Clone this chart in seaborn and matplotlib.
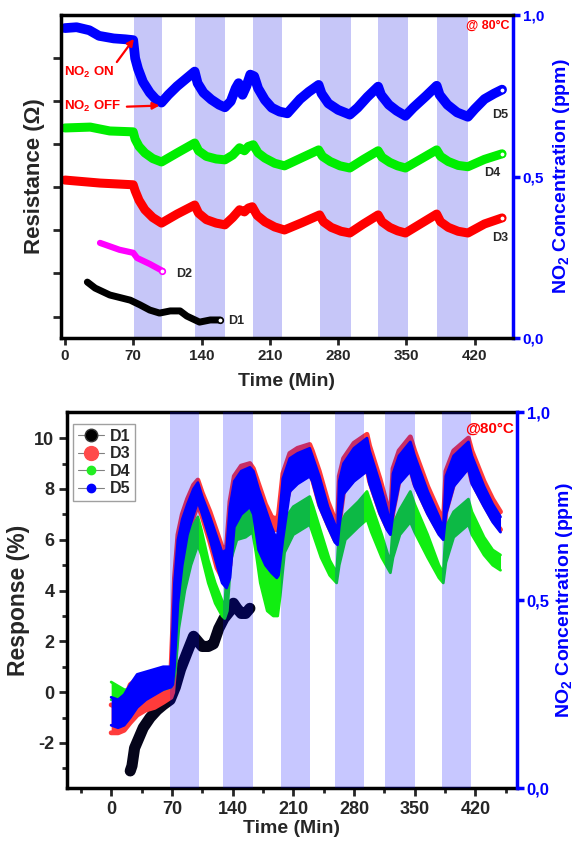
import numpy as np
import pandas as pd
import matplotlib
matplotlib.use("Agg")
import matplotlib.pyplot as plt
import seaborn as sns
from matplotlib.lines import Line2D

# ---------------- data: top panel (resistance, arbitrary units) ----------------
t_d5 = [0, 12, 25, 35, 50, 62, 70, 72, 75, 80, 87, 93, 99, 106, 115, 124, 133, 136, 142, 150, 158, 164, 170, 175,
        178, 182, 186, 190, 194, 198, 205, 212, 220, 228, 241, 250, 260, 263, 270, 280, 292, 300, 310, 321, 324,
        332, 340, 349, 357, 370, 381, 384, 392, 402, 413, 420, 430, 440, 448]
r_d5 = [7.70, 7.72, 7.65, 7.52, 7.46, 7.44, 7.42, 7.00, 6.75, 6.45, 6.20, 6.05, 5.97, 6.15, 6.35, 6.52, 6.69, 6.42,
        6.20, 6.04, 5.92, 5.86, 6.00, 6.30, 6.42, 6.15, 6.35, 6.62, 6.58, 6.30, 6.03, 5.85, 5.76, 5.72, 6.05, 6.22,
        6.38, 6.18, 5.95, 5.80, 5.69, 5.85, 6.10, 6.34, 6.15, 5.92, 5.78, 5.66, 5.85, 6.12, 6.36, 6.15, 5.92, 5.74,
        5.64, 5.82, 6.05, 6.18, 6.27]
t_d4 = [0, 26, 46, 70, 72, 76, 82, 90, 99, 115, 133, 137, 145, 155, 164, 172, 179, 184, 188, 193, 198, 205, 215,
        225, 242, 260, 264, 272, 282, 292, 306, 321, 325, 333, 341, 349, 365, 381, 385, 393, 403, 413, 430, 448]
r_d4 = [5.38, 5.40, 5.31, 5.29, 5.12, 4.95, 4.80, 4.67, 4.59, 4.80, 5.03, 4.85, 4.72, 4.66, 4.64, 4.75, 4.92, 4.85,
        4.95, 4.99, 4.80, 4.68, 4.56, 4.50, 4.68, 4.87, 4.72, 4.60, 4.50, 4.45, 4.65, 4.85, 4.70, 4.58, 4.50, 4.45,
        4.66, 4.87, 4.72, 4.60, 4.51, 4.48, 4.65, 4.78]
t_d3 = [0, 36, 70, 72, 76, 82, 90, 99, 115, 133, 137, 145, 155, 164, 172, 179, 184, 188, 192, 197, 205, 215, 225,
        243, 261, 265, 273, 283, 292, 306, 321, 325, 333, 341, 349, 365, 381, 385, 393, 403, 413, 430, 448]
r_d3 = [4.17, 4.10, 4.06, 3.92, 3.70, 3.48, 3.30, 3.17, 3.38, 3.59, 3.40, 3.25, 3.17, 3.13, 3.30, 3.48, 3.43, 3.52,
        3.55, 3.35, 3.20, 3.08, 3.01, 3.18, 3.36, 3.20, 3.07, 2.98, 2.94, 3.15, 3.36, 3.20, 3.07, 2.99, 2.94, 3.16,
        3.38, 3.20, 3.07, 2.98, 2.94, 3.15, 3.29]
t_d2 = [36, 56, 70, 74, 87, 100]
r_d2 = [2.71, 2.55, 2.48, 2.36, 2.22, 2.06]
t_d1 = [23, 31, 46, 67, 77, 87, 97, 108, 118, 125, 138, 149, 159]
r_d1 = [1.80, 1.66, 1.50, 1.38, 1.27, 1.15, 1.08, 1.13, 1.13, 1.01, 0.87, 0.92, 0.92]

on_start_top = [70.7, 133, 192.6, 261, 321, 381]
on_end_top = [99.4, 164, 223, 293, 352, 413]

# ---------------- data: bottom panel (response %) ----------------
t_b5 = [0, 8, 15, 22, 30, 40, 50, 60, 69, 71, 73, 77, 82, 88, 95, 100, 105, 114, 122, 128, 133, 137, 142, 150,
        160, 164, 170, 178, 185, 191, 193, 198, 206, 215, 229, 232, 240, 250, 258, 261, 263, 268, 280, 295, 298,
        310, 318, 322, 325, 332, 345, 350, 365, 378, 383, 386, 395, 412, 416, 430, 440, 449]
lo_b5 = [-1.3, -1.4, -1.3, -1.0, -0.6, -0.3, -0.1, 0.1, 0.2, 0.3, 1.0, 3.5, 5.0, 6.2, 7.0, 7.5, 7.0, 6.0, 5.0, 4.3,
         4.1, 4.5, 6.5, 7.0, 7.3, 7.0, 5.6, 5.0, 4.7, 4.5, 4.6, 6.0, 7.9, 8.2, 8.5, 8.3, 7.3, 6.5, 5.9, 5.8, 6.5,
         7.8, 8.3, 8.7, 8.2, 7.0, 6.4, 6.2, 7.0, 8.2, 8.7, 8.1, 7.0, 6.2, 6.0, 7.0, 8.1, 8.8, 8.2, 7.3, 6.7, 6.3]
hi_b5 = [-0.2, -0.3, -0.1, 0.3, 0.7, 0.8, 0.9, 1.0, 1.0, 2.5, 4.3, 6.0, 6.8, 7.4, 8.0, 8.25, 7.7, 6.9, 6.1, 5.5,
         5.6, 7.3, 8.3, 8.7, 8.85, 8.7, 8.0, 7.2, 6.5, 6.0, 6.5, 8.4, 9.2, 9.4, 9.6, 9.3, 8.5, 7.3, 6.6, 6.3, 8.3,
         9.0, 9.6, 10.0, 9.5, 8.2, 7.2, 6.6, 8.6, 9.3, 9.85, 9.3, 7.9, 6.9, 6.4, 8.5, 9.3, 9.85, 9.3, 8.1, 7.4, 6.9]

t_b3 = t_b5
lo_b3 = [-1.6, -1.6, -1.5, -1.2, -0.9, -0.7, -0.6, -0.4, -0.2, 0.0, 0.8, 3.3, 4.8, 6.0, 6.9, 7.4, 6.9, 5.9, 4.9,
         4.5, 4.6, 5.0, 6.8, 7.3, 7.6, 7.4, 6.8, 6.5, 6.4, 6.4, 6.4, 7.0, 8.0, 8.3, 8.6, 8.4, 7.4, 6.6, 6.0, 5.9,
         6.6, 7.9, 8.4, 8.8, 8.3, 7.1, 6.5, 6.3, 7.1, 8.3, 8.8, 8.2, 7.1, 6.3, 6.1, 7.1, 8.2, 8.9, 8.3, 7.4, 6.8,
         6.4]
hi_b3 = [-0.5, -0.6, -0.3, 0.3, 0.5, 0.6, 0.6, 0.8, 0.9, 2.6, 4.5, 6.2, 7.0, 7.6, 8.15, 8.35, 7.85, 7.1, 6.3, 5.7,
         5.7, 7.5, 8.5, 8.9, 9.0, 8.8, 8.2, 7.4, 6.9, 6.8, 7.0, 8.6, 9.4, 9.6, 9.75, 9.5, 8.7, 7.5, 6.8, 6.5, 8.5,
         9.2, 9.8, 10.15, 9.7, 8.4, 7.4, 6.8, 8.8, 9.5, 10.05, 9.5, 8.1, 7.1, 6.6, 8.7, 9.5, 10.0, 9.5, 8.3, 7.6,
         7.1]

t_b4 = [0, 5, 10, 15, 20, 30, 45, 60, 69, 71, 74, 78, 85, 92, 100, 104, 112, 120, 128, 131, 134, 138, 145, 155,
        163, 167, 172, 180, 187, 192, 195, 200, 210, 229, 233, 242, 252, 260, 263, 270, 285, 295, 300, 312, 322,
        325, 333, 345, 350, 365, 378, 383, 386, 395, 412, 416, 430, 440, 449]
lo_b4 = [-0.3, -0.2, -0.4, -0.6, -0.5, -0.4, -0.1, 0.1, 0.2, 0.3, 0.8, 2.5, 4.0, 5.0, 5.8, 5.4, 4.3, 3.5, 3.0,
         2.9, 3.2, 5.2, 6.0, 6.1, 6.3, 5.5, 4.3, 3.2, 3.0, 3.0, 3.8, 5.5, 6.2, 6.6, 6.2, 5.3, 4.6, 4.3, 5.0, 6.0,
         6.5, 6.8, 6.3, 5.3, 4.7, 5.3, 6.2, 6.7, 6.3, 5.3, 4.5, 4.3, 5.1, 6.1, 6.6, 6.2, 5.4, 5.0, 4.8]
hi_b4 = [0.4, 0.3, 0.2, 0.1, 0.1, 0.5, 0.8, 0.9, 0.9, 1.5, 3.5, 4.6, 5.6, 6.4, 6.9, 6.4, 5.2, 4.3, 3.6, 3.3, 5.5,
         6.6, 7.0, 7.1, 7.2, 6.8, 6.0, 5.2, 4.5, 4.5, 5.5, 6.8, 7.3, 7.7, 7.3, 6.3, 5.2, 4.7, 6.5, 7.0, 7.5, 7.9,
         7.4, 6.2, 5.1, 6.6, 7.2, 7.9, 7.4, 6.2, 5.0, 4.7, 6.5, 7.1, 7.6, 7.1, 6.1, 5.6, 5.4]

t_b1 = [22, 24, 27, 32, 37, 45, 53, 60, 68, 74, 80, 88, 95, 100, 105, 112, 118, 124, 130, 137, 141, 145, 150,
        155, 160]
y_b1 = [-3.1, -2.9, -2.2, -1.8, -1.4, -1.0, -0.7, -0.5, -0.3, 0.2, 0.9, 1.6, 2.2, 2.0, 1.8, 1.8, 1.9, 2.5, 2.9,
        3.2, 3.5, 3.3, 3.1, 3.1, 3.3]

on_start_bot = [68, 129, 196, 258, 316, 382]
on_end_bot = [101, 163, 229, 292, 350, 415]

top_xticks = [0, 70, 140, 210, 280, 350, 420]
conc_ticks = [0.0, 0.5, 1.0]
conc_labels = ["0,0", "0,5", "1,0"]
resp_ticks = [-2, 0, 2, 4, 6, 8, 10]

# ---------------- style ----------------
sns.set_theme(style="white")
plt.rcParams["font.family"] = ["Liberation Sans", "DejaVu Sans"]
plt.rcParams["font.weight"] = "bold"
plt.rcParams["axes.labelweight"] = "bold"
plt.rcParams["mathtext.fontset"] = "custom"
plt.rcParams["mathtext.rm"] = "Liberation Sans:bold"
plt.rcParams["mathtext.bf"] = "Liberation Sans:bold"
plt.rcParams["mathtext.it"] = "Liberation Sans:bold"
plt.rcParams["axes.unicode_minus"] = False

BLUE = "#0000ff"
RED = "#ff0000"
GREEN = "#00ee00"
MAG = "#ff00ff"


def conc_profile(starts, ends):
    t, c = [-60.0], [0.0]
    for s, e in zip(starts, ends):
        t += [s, s, e, e]
        c += [0.0, 1.0, 1.0, 0.0]
    t.append(500.0)
    c.append(0.0)
    return t, c


fig = plt.figure(figsize=(5.77, 8.43), dpi=100)

# ================= top panel =================
ax = fig.add_axes([0.1057, 0.599, 0.783, 0.383])
tw = ax.twinx()
tw.set_zorder(0)
ax.set_zorder(1)
ax.patch.set_visible(False)

tc, cc = conc_profile(on_start_top, on_end_top)
tw.fill_between(tc, 0, cc, color="#c6c6f8", lw=0)
tw.set_ylim(0, 1.0)

series_top = [
    (t_d5, r_d5, BLUE, 7.0),
    (t_d4, r_d4, GREEN, 6.5),
    (t_d3, r_d3, RED, 6.5),
    (t_d2, r_d2, MAG, 4.5),
    (t_d1, r_d1, "black", 5.0),
]
for tt, rr, col, lw in series_top:
    df = pd.DataFrame({"t": tt, "r": rr})
    sns.lineplot(data=df, x="t", y="r", ax=ax, color=col, lw=lw, solid_capstyle="round",
                 solid_joinstyle="round", legend=False)
    ax.plot(tt[-1], rr[-1], "o", ms=4, mfc="white", mec=col, mew=1.2)

ax.set_xlim(-4, 459)
ax.set_ylim(0.5, 8.0)
ax.set_xticks(top_xticks)
ax.set_yticks([1, 2, 3, 4, 5, 6, 7])
ax.set_yticklabels([])
ax.tick_params(axis="x", labelsize=11, width=2, length=5, direction="out", bottom=True, pad=3)
ax.tick_params(axis="y", width=2, length=6, direction="out", left=True)
for lab in ax.get_xticklabels():
    lab.set_fontweight("bold")
ax.set_xlabel("Time (Min)", fontsize=14, fontweight="bold", labelpad=7)
ax.set_ylabel("Resistance (Ω)", fontsize=16, fontweight="bold", labelpad=2)
for s in ["left", "bottom", "top"]:
    ax.spines[s].set_linewidth(2.5)
    ax.spines[s].set_color("black")
ax.spines["right"].set_visible(False)
for s in ["left", "bottom", "top"]:
    tw.spines[s].set_visible(False)
tw.spines["right"].set_color(BLUE)
tw.spines["right"].set_linewidth(2.5)
tw.set_yticks(conc_ticks)
tw.set_yticklabels(conc_labels)
tw.tick_params(axis="y", colors=BLUE, labelsize=11, width=2.5, length=5, direction="out", right=True, pad=2)
for lab in tw.get_yticklabels():
    lab.set_fontweight("bold")
tw.set_ylabel(r"NO$_2$ Concentration (ppm)", color=BLUE, fontsize=14, fontweight="bold", labelpad=5)

ax.text(446, 5.69, "D5", fontsize=9, fontweight="bold", ha="center", va="center")
ax.text(438, 4.34, "D4", fontsize=9, fontweight="bold", ha="center", va="center")
ax.text(446, 2.83, "D3", fontsize=9, fontweight="bold", ha="center", va="center")
ax.text(122, 1.99, "D2", fontsize=9, fontweight="bold", ha="center", va="center")
ax.text(176, 0.90, "D1", fontsize=9, fontweight="bold", ha="center", va="center")
ax.text(456, 7.75, "@ 80°C", fontsize=9, fontweight="bold", color=RED, ha="right", va="center")
ax.annotate(r"NO$_2$ ON", xy=(70.7, 7.45), xytext=(25, 6.66), color=RED, fontsize=9.5, fontweight="bold",
            ha="center", va="center",
            arrowprops=dict(arrowstyle="-|>", color=RED, lw=1.6, shrinkA=0, shrinkB=0,
                            relpos=(1.0, 1.0), mutation_scale=10))
ax.annotate(r"NO$_2$ OFF", xy=(97, 5.9), xytext=(28, 5.87), color=RED, fontsize=9.5, fontweight="bold",
            ha="center", va="center",
            arrowprops=dict(arrowstyle="-|>", color=RED, lw=1.6, shrinkA=2, shrinkB=0,
                            relpos=(1.0, 0.5), mutation_scale=10))

# ================= bottom panel =================
bx = fig.add_axes([0.116, 0.065, 0.780, 0.446])
bt = bx.twinx()

# D1
df1 = pd.DataFrame({"t": t_b1, "y": y_b1})
sns.lineplot(data=df1, x="t", y="y", ax=bx, color="#05051a", lw=8, solid_capstyle="round", legend=False,
             zorder=2)

for z, (tt, lo, hi, col, elw) in enumerate([(t_b3, lo_b3, hi_b3, "#ff3b3b", 3.5),
                                            (t_b4, lo_b4, hi_b4, "#11ee11", 2.0),
                                            (t_b5, lo_b5, hi_b5, BLUE, 2.0)]):
    zz = 3 + z
    bx.fill_between(tt, lo, hi, color=col, lw=0, zorder=zz)
    dfe = pd.DataFrame({"t": list(tt) + list(tt), "y": list(lo) + list(hi),
                        "edge": ["lo"] * len(tt) + ["hi"] * len(tt)})
    sns.lineplot(data=dfe, x="t", y="y", units="edge", estimator=None, ax=bx, color=col, lw=elw,
                 solid_capstyle="round", legend=False, zorder=zz)

tcb, ccb = conc_profile(on_start_bot, on_end_bot)
bt.fill_between(tcb, 0, ccb, color=BLUE, alpha=0.22, lw=0)
bt.set_ylim(0, 1.0)

bx.set_xlim(-51, 468)
bx.set_ylim(-3.78, 11.02)
bx.set_xticks(top_xticks)
bx.set_xticks(np.arange(-35, 468, 70), minor=True)
bx.set_yticks(resp_ticks)
bx.set_yticks(np.arange(-3, 11, 2), minor=True)
bx.tick_params(axis="both", which="major", labelsize=13, width=2, length=6, direction="out",
               bottom=True, left=True, pad=3)
bx.tick_params(axis="both", which="minor", width=2, length=3.5, direction="out", bottom=True, left=True)
for lab in bx.get_xticklabels() + bx.get_yticklabels():
    lab.set_fontweight("bold")
bx.set_xlabel("Time (Min)", fontsize=14, fontweight="bold", labelpad=2)
bx.set_ylabel("Response (%)", fontsize=16.5, fontweight="bold", labelpad=3)
for s in ["left", "bottom", "top"]:
    bx.spines[s].set_linewidth(2.5)
    bx.spines[s].set_color("black")
bx.spines["right"].set_visible(False)
for s in ["left", "bottom", "top"]:
    bt.spines[s].set_visible(False)
bt.spines["right"].set_color(BLUE)
bt.spines["right"].set_linewidth(2.5)
bt.set_yticks(conc_ticks)
bt.set_yticklabels(conc_labels)
bt.tick_params(axis="y", colors=BLUE, labelsize=12, width=2.5, length=5, direction="out", right=True, pad=2)
for lab in bt.get_yticklabels():
    lab.set_fontweight("bold")
bt.set_ylabel(r"NO$_2$ Concentration (ppm)", color=BLUE, fontsize=14, fontweight="bold", labelpad=3)

bt.text(465, 0.975, "@80°C", fontsize=11, fontweight="bold", color=RED, ha="right", va="top")

handles = [
    Line2D([], [], color="grey", lw=0.8, marker="o", ms=9, mfc="black", mec="#333333", label="D1"),
    Line2D([], [], color="grey", lw=0.8, marker="o", ms=10, mfc="#ff4a4a", mec="#ff4a4a", label="D3"),
    Line2D([], [], color="grey", lw=0.8, marker="o", ms=6, mfc="#22ee22", mec="#22ee22", label="D4"),
    Line2D([], [], color="grey", lw=0.8, marker="o", ms=6, mfc=BLUE, mec=BLUE, label="D5"),
]
leg = bt.legend(handles=handles, loc="upper left", bbox_to_anchor=(0.0, 0.985), fontsize=11.5, frameon=True,
                fancybox=False, edgecolor="#888888", handlelength=1.6, handletextpad=0.4,
                labelspacing=0.15, borderpad=0.3, borderaxespad=0.4)
leg.get_frame().set_linewidth(1.0)
for txt in leg.get_texts():
    txt.set_fontweight("bold")

fig.savefig("out.png", dpi=100)
